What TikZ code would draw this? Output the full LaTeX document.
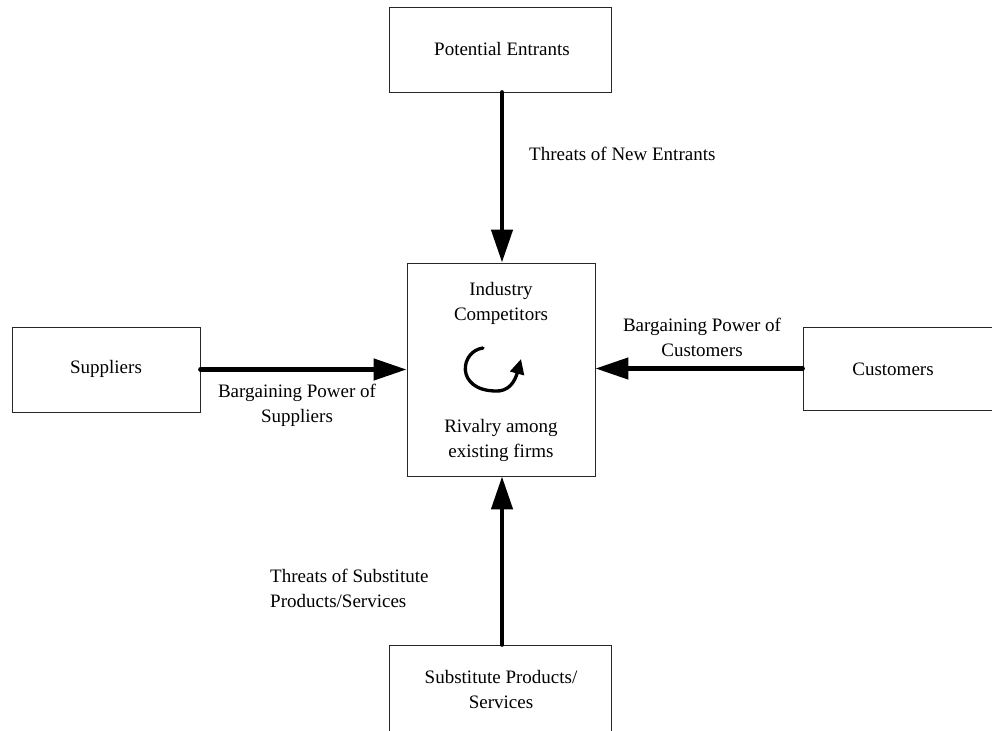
\documentclass[tikz,border=0pt]{standalone}
\usepackage{fontspec}
\setmainfont{Liberation Serif}
\usetikzlibrary{arrows.meta}
\begin{document}
\begin{tikzpicture}[x=1pt,y=-1pt,
  box/.style={draw=black!85,line width=0.9pt,inner sep=0pt},
  txt/.style={font=\fontsize{19}{25}\selectfont,align=center,inner sep=0pt},
  force/.style={line width=4.6pt,line cap=round,-{Triangle[length=33pt,width=21pt]}},
  cyc/.style={line width=3.3pt,line cap=round,-{Triangle[length=15pt,width=14pt]}}]
\useasboundingbox (0,0) rectangle (992,730);
\node[box,minimum width=222pt,minimum height=85pt] (pe) at (500,49.5) {};
\node[txt] (pet) at (502,49) {Potential Entrants};
\node[box,minimum width=188pt,minimum height=85pt] (sup) at (106,369.5) {};
\node[txt] (supt) at (106,369) {Suppliers};
\node[box,minimum width=200pt,minimum height=83pt] (cus) at (903,368.5) {};
\node[txt] (cust) at (893,369) {Customers};
\node[box,minimum width=222pt,minimum height=95pt] (sub) at (500,692.5) {};
\node[txt] (subt) at (501,689) {Substitute Products/\\Services};
\node[box,minimum width=188pt,minimum height=213pt] (ind) at (501,369.5) {};
\node[txt] (indt) at (501,303) {Industry\\Competitors};
\node[txt] (rivt) at (501,440) {Rivalry among\\existing firms};
\coordinate (c1) at (483,348);
\coordinate (c2) at (495,391);
\coordinate (c3) at (521,359);
\draw[cyc] (c1) .. controls (460,351) and (455,390) .. (c2) .. controls (509,392) and (515,381) .. (c3);
\draw[force] (pe.south -| 502,0) -- (ind.north -| 502,0);
\draw[force] (sub.north -| 502,0) -- (ind.south -| 502,0);
\draw[force] (sup.east) -- (ind.west |- sup.east);
\draw[force] (cus.west) -- (ind.east |- cus.west);
\node[txt,anchor=west] (l1) at (529,154) {Threats of New Entrants};
\node[txt] (l2) at (297,405) {Bargaining Power of\\Suppliers};
\node[txt] (l3) at (702,337) {Bargaining Power of\\Customers};
\node[txt,anchor=west,align=left] (l4) at (270,588) {Threats of Substitute\\Products/Services};
\end{tikzpicture}
\end{document}
